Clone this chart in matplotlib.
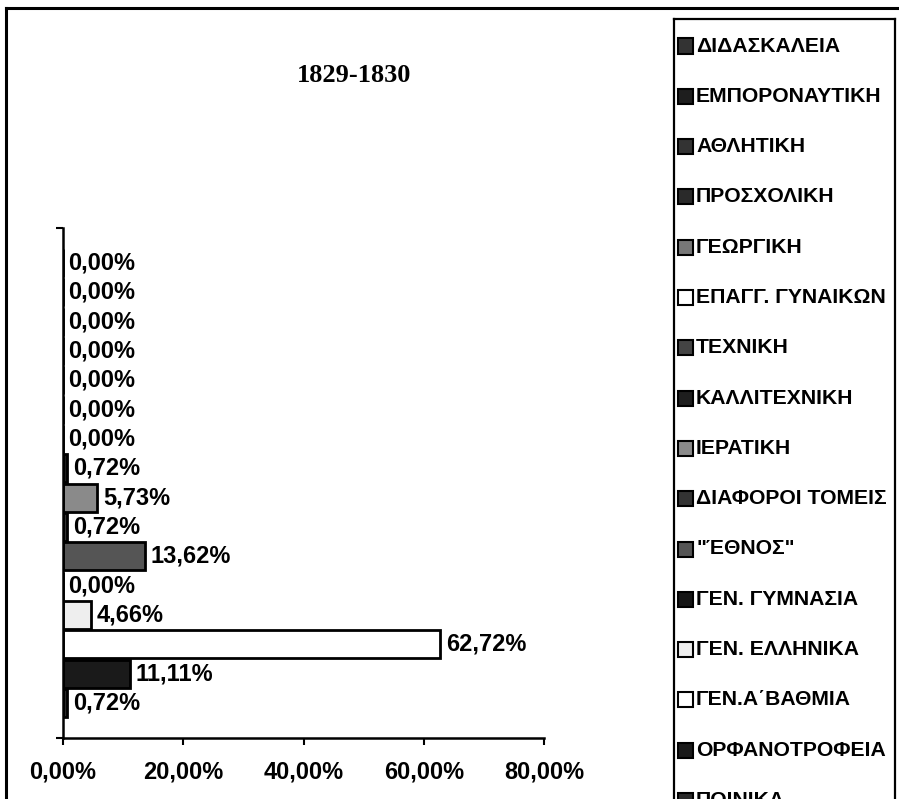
import matplotlib
matplotlib.use("Agg")
import matplotlib.pyplot as plt
from matplotlib.patches import Rectangle
from matplotlib.lines import Line2D
from matplotlib.ticker import FuncFormatter

# Data (legend order, top bar first)
categories = ["ΔΙΔΑΣΚΑΛΕΙΑ", "ΕΜΠΟΡΟΝΑΥΤΙΚΗ", "ΑΘΛΗΤΙΚΗ", "ΠΡΟΣΧΟΛΙΚΗ",
              "ΓΕΩΡΓΙΚΗ", "ΕΠΑΓΓ. ΓΥΝΑΙΚΩΝ", "ΤΕΧΝΙΚΗ", "ΚΑΛΛΙΤΕΧΝΙΚΗ",
              "ΙΕΡΑΤΙΚΗ", "ΔΙΑΦΟΡΟΙ ΤΟΜΕΙΣ", "\"ΈΘΝΟΣ\"", "ΓΕΝ. ΓΥΜΝΑΣΙΑ",
              "ΓΕΝ. ΕΛΛΗΝΙΚΑ", "ΓΕΝ.Α΄ΒΑΘΜΙΑ", "ΟΡΦΑΝΟΤΡΟΦΕΙΑ", "ΠΟΙΝΙΚΑ"]
values = [0.00, 0.00, 0.00, 0.00, 0.00, 0.00, 0.00, 0.72,
          5.73, 0.72, 13.62, 0.00, 4.66, 62.72, 11.11, 0.72]
x_ticks = [0, 20, 40, 60, 80]
title = "1829-1830"

fills = ["#333333", "#1e1e1e", "#333333", "#2a2a2a", "#777777", "#ffffff",
         "#444444", "#1e1e1e", "#8a8a8a", "#333333", "#555555", "#151515",
         "#eeeeee", "#ffffff", "#1a1a1a", "#2a2a2a"]

W, H = 899, 799
fig = plt.figure(figsize=(W / 100, H / 100), dpi=100)
fig.patch.set_facecolor("white")

def fx(x):
    return x / W

def fy(y):
    return 1 - y / H

sans = "Liberation Sans"

# Axes area
left, right, top, bottom = 63, 544, 228, 738
ax = fig.add_axes([fx(left), fy(bottom), fx(right) - fx(left), fy(top) - fy(bottom)])
n = len(values)
ypos = [n - 1 - i for i in range(n)]
ax.barh(ypos, values, height=0.95, color=fills, edgecolor="black", linewidth=2)
for y, v in zip(ypos, values):
    ax.annotate(f"{v:.2f}%".replace(".", ","), (v, y), xytext=(4, 0),
                textcoords="offset points", va="center", ha="left",
                fontsize=17, fontweight="bold", family=sans)
ax.set_xlim(0, 80)
ax.set_ylim(-1.19, n - 1 + 1.19)
ax.set_xticks(x_ticks)
ax.xaxis.set_major_formatter(FuncFormatter(lambda v, p: f"{v:.2f}%".replace(".", ",")))
ax.set_yticks([-1.19, n - 1 + 1.19])
ax.set_yticklabels([])
for s in ["top", "right"]:
    ax.spines[s].set_visible(False)
for s in ["left", "bottom"]:
    ax.spines[s].set_linewidth(1.8)
ax.tick_params(axis="x", direction="out", length=5, width=1.5, pad=11)
ax.tick_params(axis="y", direction="out", length=5, width=1.5)
for lab in ax.get_xticklabels():
    lab.set_fontsize(17)
    lab.set_fontweight("bold")
    lab.set_family(sans)
ax.set_facecolor("none")

# Title
fig.text(fx(354), fy(76), title, ha="center", va="center", fontsize=19,
         fontweight="bold", family="Liberation Serif")

# Outer frame
fig.add_artist(Line2D([fx(6), fx(6)], [fy(8), fy(820)], color="black", lw=2.2))
fig.add_artist(Line2D([fx(6), fx(920)], [fy(8), fy(8)], color="black", lw=2.2))

# Legend box
fig.add_artist(Line2D([fx(674), fx(674)], [fy(19), fy(820)], color="black", lw=1.6))
fig.add_artist(Line2D([fx(674), fx(895)], [fy(19), fy(19)], color="black", lw=1.6))
fig.add_artist(Line2D([fx(895), fx(895)], [fy(19), fy(820)], color="black", lw=1.6))

for i, (c, f) in enumerate(zip(categories, fills)):
    yc = 46 + 50.3 * i
    fig.add_artist(Rectangle((fx(678), fy(yc + 7.5)), fx(15), 15 / H,
                             facecolor=f, edgecolor="black", lw=1.5))
    fig.text(fx(696), fy(yc), c, ha="left", va="center", fontsize=15.2,
             fontweight="bold", family=sans)

fig.savefig("out.png", dpi=100)
